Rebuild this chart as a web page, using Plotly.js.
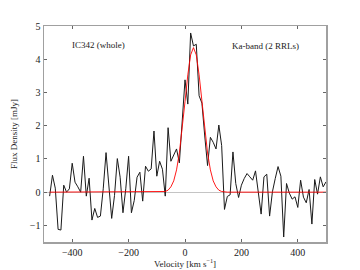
<!DOCTYPE html>
<html>
<head>
<meta charset="utf-8">
<script src="https://cdn.plot.ly/plotly-3.0.1.min.js"></script>
<style>html,body{margin:0;padding:0;background:#fff;}#chart{width:360px;height:270px;}</style>
</head>
<body>
<div id="chart"></div>
<script>
var velocity = [
 -480,-470,-460,-450,-440,-430,-420,-410,-400,-390,
 -380,-370,-360,-350,-340,-330,-320,-310,-300,-290,
 -280,-270,-260,-250,-240,-230,-220,-210,-200,-190,
 -180,-170,-160,-150,-140,-130,-120,-110,-100,-90,
 -80,-70,-60,-50,-40,-30,-20,-10,0,10,
 20,30,40,50,60,70,80,90,100,110,
 120,130,140,150,160,170,180,190,200,210,
 220,230,240,250,260,270,280,290,300,310,
 320,330,340,350,360,370,380,390,400,410,
 420,430,440,450,460,470,480,490,500
];
var flux = [
 -0.12,0.51,0.12,-1.12,-1.14,0.21,0.0,0.1,0.87,0.3,
 0.16,0.0,1.08,-0.12,0.42,-0.84,-0.49,-0.76,-0.72,0.1,
 1.19,0.2,-0.79,-0.1,1.01,0.45,-0.62,0.1,1.08,-0.62,
 -0.25,0.45,0.6,-0.27,0.78,0.63,0.7,1.84,0.48,0.93,
 0.69,-0.12,1.94,0.93,1.14,1.3,0.88,2.1,3.38,2.65,
 4.79,4.4,4.45,2.9,2.68,1.69,0.8,1.65,1.5,1.3,
 2.02,1.4,-0.52,-0.13,-0.08,1.21,0.26,-0.16,0.21,0.41,
 0.56,0.46,0.36,0.64,0.05,-0.66,0.46,0.54,-0.72,0.01,
 0.41,0.77,0.48,-1.35,0.26,-0.03,-0.21,-0.14,-0.46,0.36,
 -0.15,-0.32,0.08,-0.96,0.38,-0.06,0.46,0.16,0.31
];
var fit = [
 0,0,0,0,0,0,0,0,0,0,
 0,0,0,0,0,0,0,0,0,0,
 0,0,0,0,0,0,0,0,0,0,
 0,0,0,0,0,0,0,0,0,0,
 0,0.02,0.06,0.16,0.34,0.67,1.18,1.89,2.72,3.53,
 4.13,4.35,4.13,3.53,2.72,1.89,1.18,0.67,0.34,0.16,
 0.06,0.02,0,0,0,0,0,0,0,0,
 0,0,0,0,0,0,0,0,0,0,
 0,0,0,0,0,0,0,0,0,0,
 0,0,0,0,0,0,0,0,0
];
var xTicks = [-400,-200,0,200,400];
var yTicks = [-1,0,1,2,3,4,5];
var labelLeft = "IC342 (whole)";
var labelRight = "Ka-band (2 RRLs)";

var serif = "Liberation Serif, DejaVu Serif, serif";
var traces = [
 {x: velocity, y: flux, type: 'scatter', mode: 'lines',
  line: {color: '#1a1a1a', width: 1}, hoverinfo: 'skip'},
 {x: velocity, y: fit, type: 'scatter', mode: 'lines',
  line: {color: '#ff0000', width: 0.9}, hoverinfo: 'skip'}
];
var axisCommon = {
 showgrid: false, showline: true, mirror: 'allticks',
 linecolor: '#a0a0a0', linewidth: 1.5,
 ticks: 'inside', ticklen: 3, tickwidth: 1, tickcolor: '#666',
 tickfont: {family: serif, size: 10, color: '#222'}
};
var layout = {
 width: 360, height: 270,
 margin: {l: 44, r: 34, t: 26, b: 28},
 paper_bgcolor: '#fff', plot_bgcolor: '#fff',
 showlegend: false,
 xaxis: Object.assign({}, axisCommon, {
  range: [-500, 500], tickmode: 'array', tickvals: xTicks,
  zeroline: false,
  title: {text: 'Velocity [km s<sup>\u22121</sup>]', font: {family: serif, size: 9, color: '#222'}, standoff: 2}
 }),
 yaxis: Object.assign({}, axisCommon, {
  range: [-1.5, 5], tickmode: 'array', tickvals: yTicks,
  zeroline: true, zerolinecolor: '#c4c4c4', zerolinewidth: 1,
  title: {text: 'Flux Density [mJy]', font: {family: serif, size: 9, color: '#222'}, standoff: 10}
 }),
 annotations: [
  {text: labelLeft, xref: 'paper', yref: 'paper', x: 0.195, y: 0.912,
   showarrow: false, xanchor: 'center', yanchor: 'middle',
   font: {family: serif, size: 9, color: '#222'}},
  {text: labelRight, xref: 'paper', yref: 'paper', x: 0.787, y: 0.907,
   showarrow: false, xanchor: 'center', yanchor: 'middle',
   font: {family: serif, size: 9, color: '#222'}}
 ]
};
Plotly.newPlot('chart', traces, layout, {staticPlot: true, displayModeBar: false});
</script>
</body>
</html>
